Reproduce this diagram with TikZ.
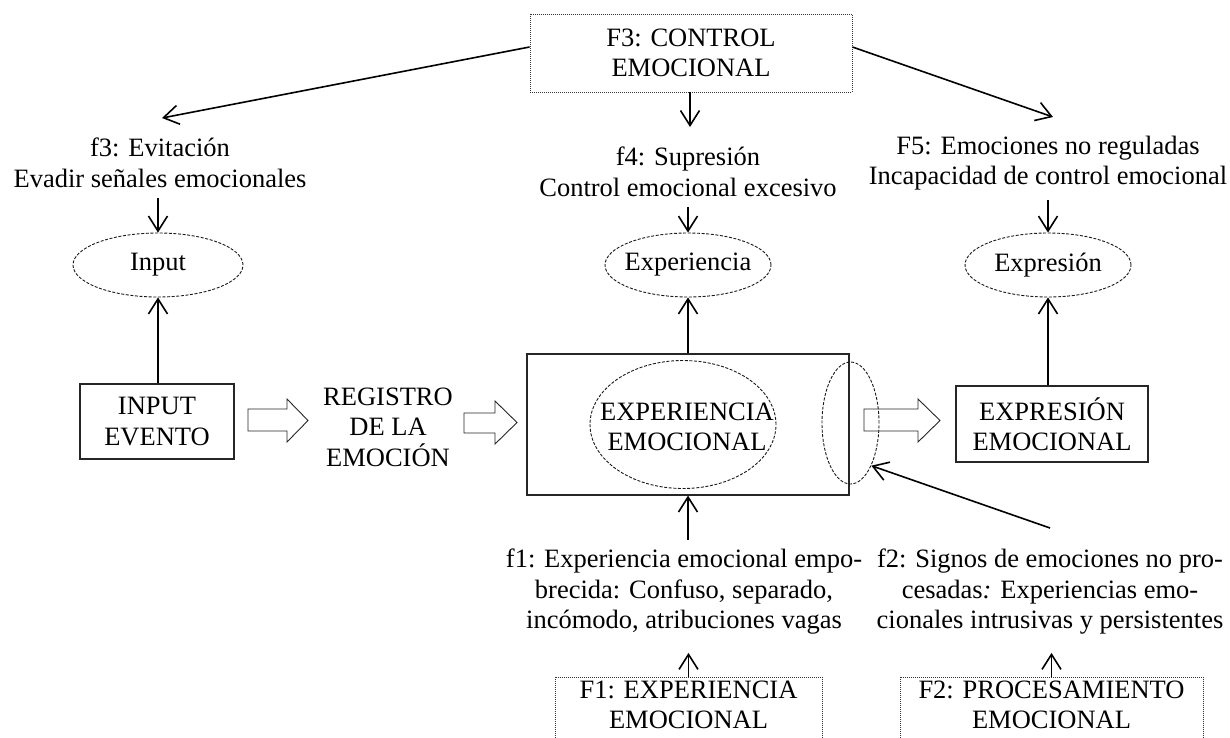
\documentclass[tikz,border=0pt]{standalone}
\usepackage{fontspec}
\setmainfont{Liberation Serif}
\usetikzlibrary{arrows.meta,shapes.geometric,calc}

\begin{document}
\begin{tikzpicture}[x=1pt,y=-1pt,
  every node/.style={font=\fontsize{26.5}{30.5}\selectfont, align=center, inner sep=0pt},
  solidbox/.style={draw=black!85, line width=1.1pt},
  dotbox/.style={draw=black!80, line width=0.9pt, dash pattern=on 1pt off 1pt},
  dashell/.style={ellipse, draw=black!90, line width=0.9pt, dash pattern=on 3pt off 1.6pt},
  conn/.style={-{Straight Barb[length=15pt,width=19pt]}, line width=1.6pt},
  blockarrow/.style={draw=black!85, line width=0.9pt, line join=miter}
]
\useasboundingbox (0,0) rectangle (1230,737);
\clip (0,0) rectangle (1230,737);

% --- control factor at the top and its three effects
\node[dotbox, minimum width=322pt, minimum height=78pt] (F3) at (691,53) {F3: CONTROL\\EMOCIONAL};
\node (f3) at (160,163) {f3: Evitación\\Evadir señales emocionales};
\node (f4) at (688,172) {f4: Supresión\\Control emocional excesivo};
\node (f5) at (1048,163) {F5: Emociones no reguladas\\Incapacidad de control emocional};
\coordinate (tipL) at (162,118);
\coordinate (tipM) at (690,127);
\coordinate (tipR) at (1053,117);

% --- affected stages
\node[dashell, minimum width=170pt, minimum height=64pt] (inp) at (158,265) {};
\node (inpT) at (158,265) {Input};
\node[dashell, minimum width=166pt, minimum height=64pt] (exp) at (688,265) {};
\node (expT) at (688,265) {Experiencia};
\node[dashell, minimum width=166pt, minimum height=64pt] (xpr) at (1048,265) {};
\node (xprT) at (1048,265) {Expresión};

% --- processing chain
\node[solidbox, minimum width=154pt, minimum height=75pt] (inbox) at (157,421.5) {INPUT\\EVENTO};
\node (reg) at (388,427) {REGISTRO\\DE LA\\EMOCIÓN};
\node[solidbox, minimum width=322pt, minimum height=141pt] (big) at (688,424.5) {};
\node[dashell, minimum width=186pt, minimum height=128pt] (core) at (683,424.5) {};
\node (coreT) at (687,427) {EXPERIENCIA\\EMOCIONAL};
\node[dashell, minimum width=57pt, minimum height=122pt] (edge) at (850.5,423) {};
\node[solidbox, minimum width=192pt, minimum height=76pt] (xbox) at (1052,424) {EXPRESIÓN\\EMOCIONAL};

% hollow block arrows between the stages
\draw[blockarrow] (248,409) -- (287,409) -- (287,399) -- (308,420.5) -- (287,442) -- (287,431) -- (248,431) -- cycle;
\draw[blockarrow] (464,413) -- (495,413) -- (495,401) -- (517,422.5) -- (495,444) -- (495,433) -- (464,433) -- cycle;
\draw[blockarrow] (864,409) -- (918,409) -- (918,399) -- (940,420.5) -- (918,442) -- (918,431) -- (864,431) -- cycle;

% --- lower factors
\node (f1) at (684,592) {f1: Experiencia emocional empo-\\brecida: Confuso, separado,\\incómodo, atribuciones vagas};
\node (f2) at (1050,592) {f2: Signos de emociones no pro-\\cesadas\textit{:} Experiencias emo-\\cionales intrusivas y persistentes};
\node[dotbox, minimum width=267pt, minimum height=90pt, anchor=north] (F1) at (688.5,677) {};
\node (F1T) at (688.5,705) {F1: EXPERIENCIA\\EMOCIONAL};
\node[dotbox, minimum width=303pt, minimum height=90pt, anchor=north] (F2) at (1051.5,677) {};
\node (F2T) at (1051.5,705) {F2: PROCESAMIENTO\\EMOCIONAL};
\coordinate (f2tail) at (1050,528);

% --- connectors
\draw[conn] ([yshift=6pt]F3.west) -- (tipL);
\draw[conn] (F3.south -| tipM) -- (tipM);
\draw[conn] ([yshift=6pt]F3.east) -- (tipR);

\draw[conn, shorten <=10pt] (f3.south -| inp.north) -- (inp.north);
\draw[conn, shorten <=10pt] (f4.south -| exp.north) -- (exp.north);
\draw[conn, shorten <=10pt] (f5.south -| xpr.north) -- (xpr.north);

\draw[conn] (inp.south |- inbox.north) -- (inp.south);
\draw[conn] (exp.south |- big.north) -- (exp.south);
\draw[conn] (xpr.south |- xbox.north) -- (xpr.south);

\draw[conn, shorten <=9pt] (big.south |- f1.north) -- (big.south);
\draw[conn, shorten >=18pt] (F1.north) -- (F1.north |- f1.south);
\draw[conn, shorten >=18pt] (F2T |- F2.north) -- (F2T |- f2.south);
\draw[conn] (f2tail) -- (edge.-64);
\end{tikzpicture}
\end{document}
